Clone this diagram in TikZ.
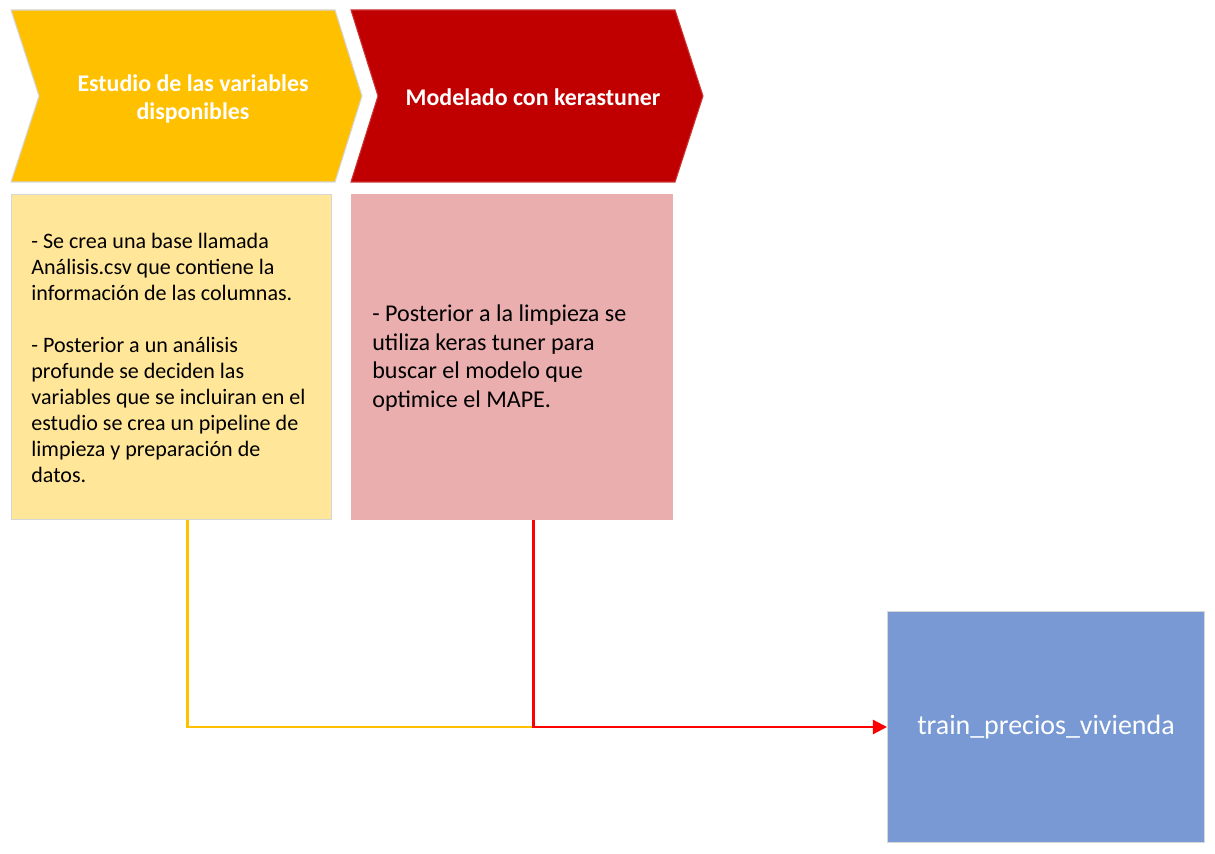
\documentclass[tikz,border=0pt]{standalone}
\usepackage{fontspec}
\setmainfont{Carlito}
\usetikzlibrary{positioning,arrows.meta}

\definecolor{chevyellow}{HTML}{FFC000}
\definecolor{chevred}{HTML}{C00000}
\definecolor{noteyellow}{HTML}{FFE699}
\definecolor{notered}{HTML}{EAAEAE}
\definecolor{outblue}{HTML}{7899D4}
\definecolor{edgegray}{HTML}{D6D6D6}
\definecolor{lineyellow}{HTML}{FFC000}
\definecolor{linered}{HTML}{FF0000}

\begin{document}
\begin{tikzpicture}[x=0.02cm, y=-0.02cm,
  chevtext/.style={text=white, align=center, font=\fontsize{13.6}{16.4}\selectfont\bfseries},
  notebox/.style={draw=edgegray, line width=0.6pt, rectangle, anchor=north west, inner sep=0pt},
  notetext/.style={align=left, anchor=west, inner sep=0pt},
  outbox/.style={draw=edgegray, fill=outblue, line width=0.6pt, rectangle, anchor=north west, inner sep=0pt,
    text=white, font=\fontsize{15.9}{19}\selectfont},
  flowline/.style={line width=1.3pt}]

\useasboundingbox (0,0) rectangle (1215,854);

%Chevrons
\filldraw[fill=chevyellow, draw=edgegray, line width=0.6pt]
  (11,10) -- (335,10) -- (362,96) -- (335,182) -- (11,182) -- (39,96) -- cycle;
\filldraw[fill=chevred, draw=chevred!80!white, line width=0.6pt]
  (351,10) -- (675,10) -- (703,96) -- (675,182) -- (351,182) -- (378,96) -- cycle;
\node[chevtext] (step1) at (193,99) {Estudio de las variables\\disponibles};
\node[chevtext] (step2) at (533,97) {Modelado con kerastuner};

%Nodes
\node[notebox, fill=noteyellow, minimum width=6.4cm, minimum height=6.5cm] (box1) at (11,194) {};
\node[notebox, fill=notered, draw=notered, minimum width=6.42cm, minimum height=6.5cm] (box2) at (351,194) {};
\node[outbox, minimum width=6.34cm, minimum height=4.62cm] (box3) at (887,611) {train\_precios\_vivienda};

\node[notetext, font=\fontsize{12.55}{14.75}\selectfont] (text1) at (31,358)
  {- Se crea una base llamada\\
   Análisis.csv que contiene la\\
   información de las columnas.\\[14.75pt]
   - Posterior a un análisis\\
   profunde se deciden las\\
   variables que se incluiran en el\\
   estudio se crea un pipeline de\\
   limpieza y preparación de\\
   datos.};
\node[notetext, font=\fontsize{13.7}{16.4}\selectfont] (text2) at (372,358)
  {- Posterior a la limpieza se\\
   utiliza keras tuner para\\
   buscar el modelo que\\
   optimice el MAPE.};

%line
\coordinate (join) at ([xshift=0.43cm]box2.south |- box3.west);
\coordinate (drop1) at ([xshift=0.32cm]box1.south);
\coordinate (drop2) at ([xshift=0.43cm]box2.south);
\draw[flowline, lineyellow] (drop1) -- (drop1 |- join) -- (join);
\draw[flowline, linered, -{Triangle[length=8pt,width=8pt]}] (drop2) -- (join) -- (box3.west);

\end{tikzpicture}
\end{document}
